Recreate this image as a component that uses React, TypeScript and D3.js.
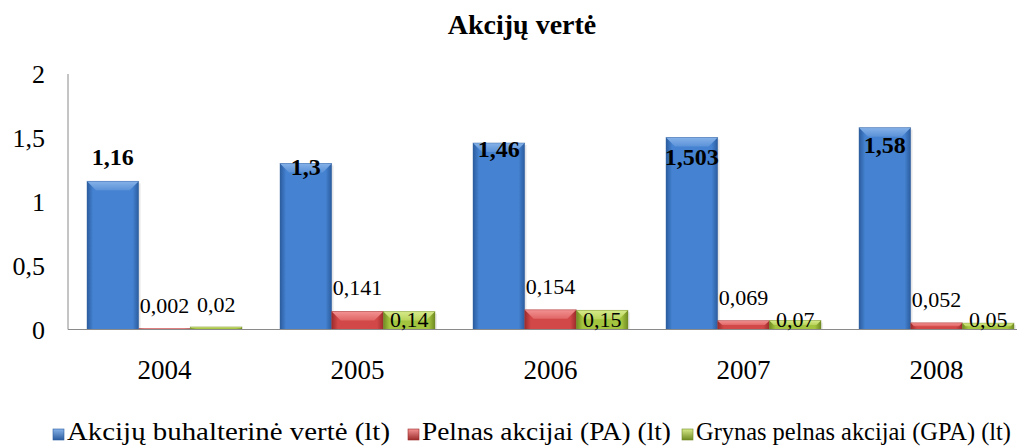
import React from "react";
import * as d3 from "d3";

const years = ["2004", "2005", "2006", "2007", "2008"];
const bookValue = [1.16, 1.3, 1.46, 1.503, 1.58];
const profitPerShare = [0.002, 0.141, 0.154, 0.069, 0.052];
const netProfitPerShare = [0.02, 0.14, 0.15, 0.07, 0.05];
const bookLabels = ["1,16", "1,3", "1,46", "1,503", "1,58"];
const profitLabels = ["0,002", "0,141", "0,154", "0,069", "0,052"];
const netLabels = ["0,02", "0,14", "0,15", "0,07", "0,05"];
const yTicks = [0, 0.5, 1, 1.5, 2];
const yTickLabels = ["0", "0,5", "1", "1,5", "2"];
const seriesNames = [
  "Akcijų buhalterinė vertė (lt)",
  "Pelnas akcijai (PA) (lt)",
  "Grynas pelnas akcijai (GPA) (lt)",
];
const title = "Akcijų vertė";

// layout / style (not data)
const W = 1018;
const H = 448;
const FONT = '"Liberation Serif", "Times New Roman", "DejaVu Serif", serif';
const palettes = [
  { id: "b", edge: "#2b5c9e", mid: "#4583d2", top: "#86b2e8", topEdge: "#5b92d8" },
  { id: "r", edge: "#9c2b2b", mid: "#d24848", top: "#f39292", topEdge: "#e06565" },
  { id: "g", edge: "#6f8a22", mid: "#a3c43f", top: "#d6ea8a", topEdge: "#b9d35a" },
];
const bookLabelDy = [-16, 12, 14, 28, 25];
const legendX = [53, 408, 682];
const legendTextLen = [323, 249, 315];
const txt = (size: number, bold = false): React.CSSProperties => ({
  fontFamily: FONT,
  fontSize: size,
  fontWeight: bold ? "bold" : "normal",
});

export default function App() {
  const x = d3
    .scaleBand<string>()
    .domain(years)
    .range([68, 68 + 965])
    .paddingInner(0.197)
    .paddingOuter(0.0985);
  const sub = d3
    .scaleBand<number>()
    .domain([0, 1, 2])
    .range([0, x.bandwidth()]);
  const y = d3.scaleLinear().domain([0, 2]).range([329.5, 74]);
  const series = [bookValue, profitPerShare, netProfitPerShare];

  const bar = (v: number, i: number, s: number) => {
    const p = palettes[s];
    const bx = (x(years[i]) as number) + (sub(s) as number);
    const bw = sub.bandwidth();
    const h = Math.max(1.2, y(0) - y(v));
    const top = y(0) - h;
    const b = Math.min(9, h / 2);
    return (
      <g key={`${s}-${i}`}>
        <rect x={bx + 2} y={top + 2} width={bw} height={h - 2} fill="#000" opacity={0.08} />
        <rect x={bx} y={top} width={bw} height={h} fill={`url(#side-${p.id})`} />
        {h > 2 && (
          <polygon
            points={`${bx},${top} ${bx + bw},${top} ${bx + bw - b},${top + b} ${bx + b},${top + b}`}
            fill={`url(#top-${p.id})`}
          />
        )}
        {h > 2 && (
          <rect
            x={bx}
            y={top}
            width={bw}
            height={h}
            fill="none"
            stroke={p.edge}
            strokeOpacity={0.5}
            strokeWidth={0.8}
          />
        )}
      </g>
    );
  };

  return (
    <svg
      width={W}
      height={H}
      style={{ position: "absolute", left: 0, top: 0, background: "#fff" }}
    >
      <defs>
        {palettes.map((p) => (
          <React.Fragment key={p.id}>
            <linearGradient id={`side-${p.id}`} x1="0" x2="1" y1="0" y2="0">
              <stop offset="0" stopColor={p.edge} />
              <stop offset="0.12" stopColor={p.mid} />
              <stop offset="0.88" stopColor={p.mid} />
              <stop offset="1" stopColor={p.edge} />
            </linearGradient>
            <linearGradient id={`top-${p.id}`} x1="0" x2="0" y1="0" y2="1">
              <stop offset="0" stopColor={p.top} />
              <stop offset="1" stopColor={p.topEdge} />
            </linearGradient>
            <linearGradient id={`leg-${p.id}`} x1="0" x2="0" y1="0" y2="1">
              <stop offset="0" stopColor={p.top} />
              <stop offset="1" stopColor={p.edge} />
            </linearGradient>
          </React.Fragment>
        ))}
      </defs>

      <text x={522} y={34} textAnchor="middle" style={txt(28, true)}>
        {title}
      </text>

      {yTicks.map((t, i) => (
        <text key={t} x={45} y={y(t) + 9} textAnchor="end" style={txt(26)}>
          {yTickLabels[i]}
        </text>
      ))}

      <line x1={68} x2={68} y1={y(2)} y2={y(0)} stroke="#8a8a8a" strokeWidth={1} />

      {series.map((vals, s) => vals.map((v, i) => bar(v, i, s)))}

      <line x1={68} x2={1017} y1={y(0)} y2={y(0)} stroke="#8a8a8a" strokeWidth={1} />

      {years.map((yr) => (
        <text
          key={yr}
          x={(x(yr) as number) + x.bandwidth() / 2}
          y={379}
          textAnchor="middle"
          style={txt(27)}
        >
          {yr}
        </text>
      ))}

      {bookValue.map((v, i) => (
        <text
          key={`bl${i}`}
          x={(x(years[i]) as number) + (sub(0) as number) + sub.bandwidth() / 2}
          y={y(v) + bookLabelDy[i]}
          textAnchor="middle"
          style={txt(24, true)}
        >
          {bookLabels[i]}
        </text>
      ))}

      {profitPerShare.map((v, i) => (
        <text
          key={`pl${i}`}
          x={(x(years[i]) as number) + (sub(1) as number) + sub.bandwidth() / 2}
          y={y(v) - 16}
          textAnchor="middle"
          style={txt(22)}
        >
          {profitLabels[i]}
        </text>
      ))}

      {netProfitPerShare.map((v, i) => (
        <text
          key={`nl${i}`}
          x={(x(years[i]) as number) + (sub(2) as number) + sub.bandwidth() / 2}
          y={v < 0.03 ? y(v) - 15 : y(0) - 3}
          textAnchor="middle"
          style={txt(22)}
        >
          {netLabels[i]}
        </text>
      ))}

      {seriesNames.map((n, i) => (
        <g key={n}>
          <rect
            x={legendX[i]}
            y={429}
            width={11}
            height={11}
            fill={`url(#leg-${palettes[i].id})`}
            stroke={palettes[i].edge}
            strokeWidth={0.6}
          />
          <text
            x={legendX[i] + 14}
            y={440}
            style={txt(25)}
            textLength={legendTextLen[i]}
            lengthAdjust="spacingAndGlyphs"
          >
            {n}
          </text>
        </g>
      ))}
    </svg>
  );
}
